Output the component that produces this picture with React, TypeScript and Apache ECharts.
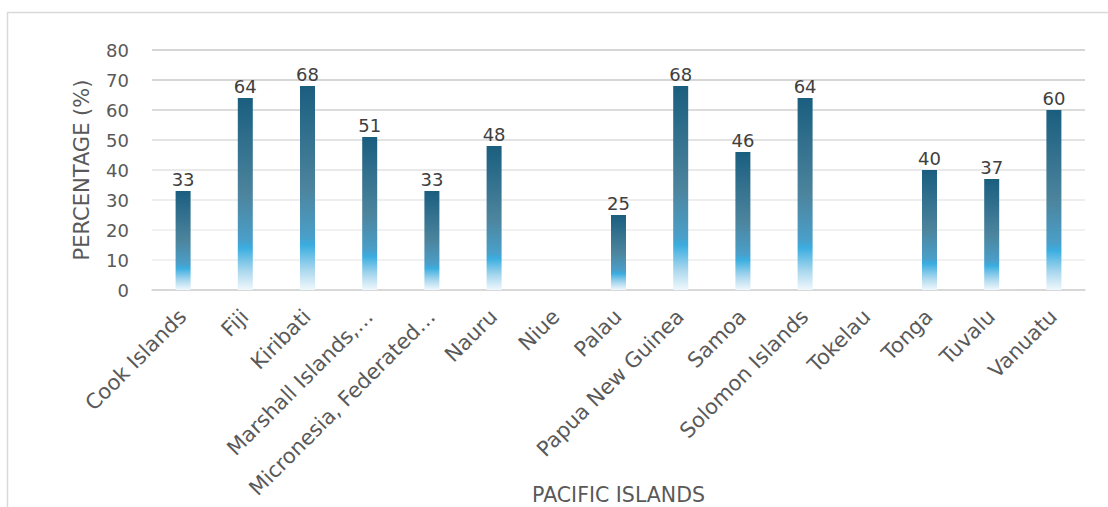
import React, { useEffect, useRef } from "react";
import * as echarts from "echarts";

const categories = [
  "Cook Islands",
  "Fiji",
  "Kiribati",
  "Marshall Islands,…",
  "Micronesia, Federated…",
  "Nauru",
  "Niue",
  "Palau",
  "Papua New Guinea",
  "Samoa",
  "Solomon Islands",
  "Tokelau",
  "Tonga",
  "Tuvalu",
  "Vanuatu",
];
const percentages: (number | null)[] = [33, 64, 68, 51, 33, 48, null, 25, 68, 46, 64, null, 40, 37, 60];
const yTicks = { min: 0, max: 80, interval: 10 };
const xAxisTitle = "PACIFIC ISLANDS";
const yAxisTitle = "PERCENTAGE (%)";

const FONT = "'DejaVu Sans', 'Liberation Sans', Arial, sans-serif";

export default function App() {
  const ref = useRef<HTMLDivElement>(null);
  useEffect(() => {
    if (!ref.current) return;
    const chart = echarts.init(ref.current, undefined, { renderer: "svg", width: 1108, height: 507 });
    const gradient = new echarts.graphic.LinearGradient(0, 0, 0, 1, [
      { offset: 0, color: "#1a5e7f" },
      { offset: 0.5, color: "#4c849d" },
      { offset: 0.74, color: "#4a9fc9" },
      { offset: 0.78, color: "#3aade0" },
      { offset: 0.9, color: "#a9d7ee" },
      { offset: 1, color: "#f0f8fc" },
    ]);
    chart.setOption({
      animation: false,
      textStyle: { fontFamily: FONT },
      graphic: [
        {
          type: "rect",
          shape: { x: 7.5, y: 12.5, width: 1200, height: 600 },
          style: { fill: "none", stroke: "#d9d9d9", lineWidth: 1.5 },
          silent: true,
        },
      ],
      grid: {
        left: 152,
        right: 23,
        top: 50,
        bottom: 217,
        containLabel: false,
        outerBoundsMode: "none",
      },
      xAxis: {
        type: "category",
        data: categories,
        name: xAxisTitle,
        nameLocation: "middle",
        nameGap: 195,
        nameMoveOverlap: false,
        nameTextStyle: { fontSize: 20.5, lineHeight: 20, color: "#595959", fontFamily: FONT },
        axisLine: { show: true, lineStyle: { color: "#d4d4d4", width: 1.5 } },
        axisTick: { show: false },
        axisLabel: {
          interval: 0,
          rotate: 45,
          align: "right",
          verticalAlign: "top",
          fontSize: 21,
          color: "#595959",
          margin: 8,
          padding: [0, 11, 0, 0],
          fontFamily: FONT,
        },
      },
      yAxis: {
        type: "value",
        min: yTicks.min,
        max: yTicks.max,
        interval: yTicks.interval,
        name: yAxisTitle,
        nameLocation: "middle",
        nameGap: 60,
        nameRotate: 90,
        nameMoveOverlap: false,
        nameTextStyle: { fontSize: 21, color: "#595959", fontFamily: FONT },
        axisLine: { show: false },
        axisTick: { show: false },
        axisLabel: { fontSize: 18, color: "#595959", margin: 23, fontFamily: FONT },
        splitLine: {
          lineStyle: {
            color: ["#d9d9d9", "#ececec", "#ececec", "#e8e8e8", "#e2e2e2", "#dadada", "#d0d0d0", "#c9c9c9", "#c9c9c9"],
            width: 1.5,
          },
        },
      },
      series: [
        {
          type: "bar",
          data: percentages,
          barWidth: 15,
          itemStyle: { color: gradient },
          label: {
            show: true,
            position: "top",
            distance: 3,
            fontSize: 18,
            color: "#404040",
            fontFamily: FONT,
          },
        },
      ],
    });
    return () => chart.dispose();
  }, []);
  return (
    <div
      ref={ref}
      style={{ position: "fixed", left: 0, top: 0, width: 1108, height: 507, background: "#fff" }}
    />
  );
}
